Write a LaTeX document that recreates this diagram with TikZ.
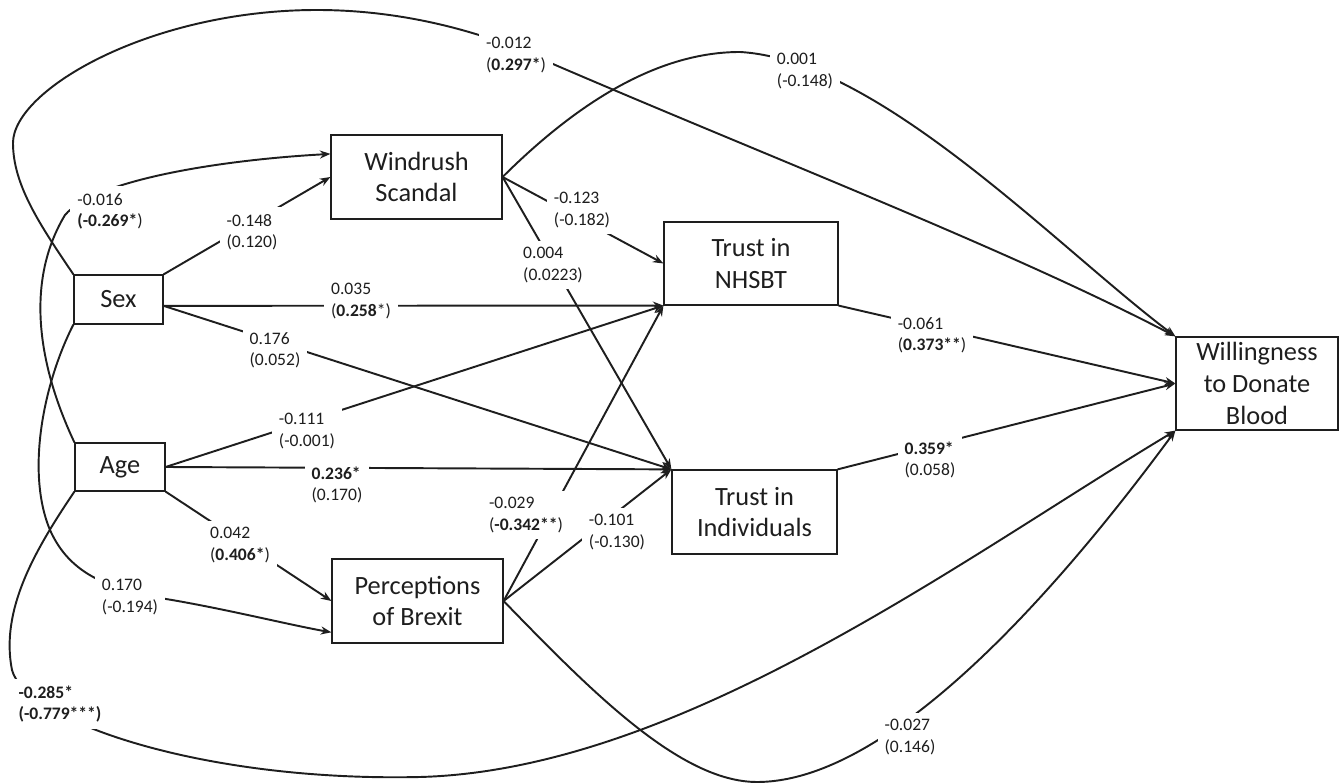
\documentclass[tikz,border=0pt]{standalone}
\usepackage{fontspec}
\setmainfont{Carlito}
\usetikzlibrary{arrows.meta}
\definecolor{ink}{RGB}{30,30,30}
\tikzset{
  >={Stealth[length=6pt,width=4.6pt]},
  box/.style={draw=ink,line width=0.7pt,align=center,inner sep=2pt,
    font=\fontsize{15}{18}\selectfont,text=ink},
  flow/.style={->,line width=1.1pt,draw=ink},
  coef/.style={fill=white,align=left,inner sep=4pt,
    font=\fontsize{10}{12}\selectfont,text=ink},
}
\begin{document}
\begin{tikzpicture}[x=0.02cm,y=-0.02cm]
  \useasboundingbox (0,0) rectangle (1340,783);
  % variables
  \node[box,minimum width=1.78cm,minimum height=0.98cm] (sex) at (118.5,299.5) {Sex};
  \node[box,minimum width=1.8cm,minimum height=0.96cm] (age) at (120,467) {Age};
  \node[box,minimum width=3.42cm,minimum height=1.68cm] (wind) at (416.5,177) {Windrush\\Scandal};
  \node[box,minimum width=3.48cm,minimum height=1.66cm] (nhsbt) at (751,263.5) {Trust in\\NHSBT};
  \node[box,minimum width=3.3cm,minimum height=1.68cm] (indiv) at (754.5,512) {Trust in\\Individuals};
  \node[box,minimum width=3.42cm,minimum height=1.68cm] (brexit) at (417.5,601) {Perceptions\\of Brexit};
  \node[box,minimum width=3.24cm,minimum height=1.86cm] (will) at (1257,383.5) {Willingness\\to Donate\\Blood};

  % straight paths
  \foreach \a/\b in {sex.north east/wind.west, sex.-8/nhsbt.south west,
      sex.-8/indiv.north west, age.east/nhsbt.south west, age.east/indiv.north west,
      age.south east/brexit.west, wind.east/nhsbt.west, wind.east/indiv.north west,
      brexit.east/nhsbt.south west, brexit.east/indiv.north west,
      nhsbt.south east/will.west, indiv.north east/will.west}
    \draw[flow] (\a) -- (\b);

  % curved paths
  \draw[flow] (sex.north west) .. controls (40,225) and (13,185) .. (13,143)
    .. controls (13,90) and (150,10) .. (317,10)
    .. controls (400,10) and (470,30) .. (516,48)
    .. controls (750,150) and (1000,245) .. (will.north west);
  \draw[flow] (age.north west) .. controls (45,380) and (20,290) .. (65,215)
    .. controls (95,180) and (220,160) .. (wind.165);
  \draw[flow] (sex.south west) .. controls (45,380) and (25,470) .. (50,530)
    .. controls (70,575) and (110,590) .. (172,600)
    .. controls (230,610) and (290,625) .. (brexit.200);
  \draw[flow] (age.south west) .. controls (35,550) and (0,610) .. (12,670)
    .. controls (25,720) and (200,782) .. (420,777)
    .. controls (680,770) and (960,560) .. (will.south west);
  \draw[flow] (wind.east) .. controls (580,100) and (660,52) .. (740,52)
    .. controls (880,60) and (1060,250) .. (will.north west);
  \draw[flow] (brexit.east) .. controls (590,690) and (680,782) .. (757,782)
    .. controls (900,782) and (1080,560) .. (will.south west);

  % coefficients
  \foreach \x/\y/\t [count=\i] in {252/232/{-0.148\\(0.120)},
      110/211/{-0.016\\\textbf{(-0.269*})},
      516/55/{-0.012\\(\textbf{0.297*})},
      805/71/{0.001\\(-0.148)},
      582/210/{-0.123\\(-0.182)},
      553/265/{0.004\\(0.0223)},
      361/301/{0.035\\(\textbf{0.258}*)},
      275/350/{0.176\\(0.052)},
      307/431/{-0.111\\(-0.001)},
      337/485/{\textbf{0.236*}\\(0.170)},
      240/545/{0.042\\(\textbf{0.406*})},
      130/597/{0.170\\(-0.194)},
      60/704/{\textbf{-0.285*}\\\textbf{(-0.779***)}},
      526/515/{-0.029\\(\textbf{-0.342**})},
      617/532/{-0.101\\(-0.130)},
      932/335/{-0.061\\(\textbf{0.373**})},
      930/460/{\textbf{0.359*}\\(0.058)},
      910/737/{-0.027\\(0.146)}}
    \node[coef] (c\i) at (\x,\y) {\t};
\end{tikzpicture}
\end{document}
